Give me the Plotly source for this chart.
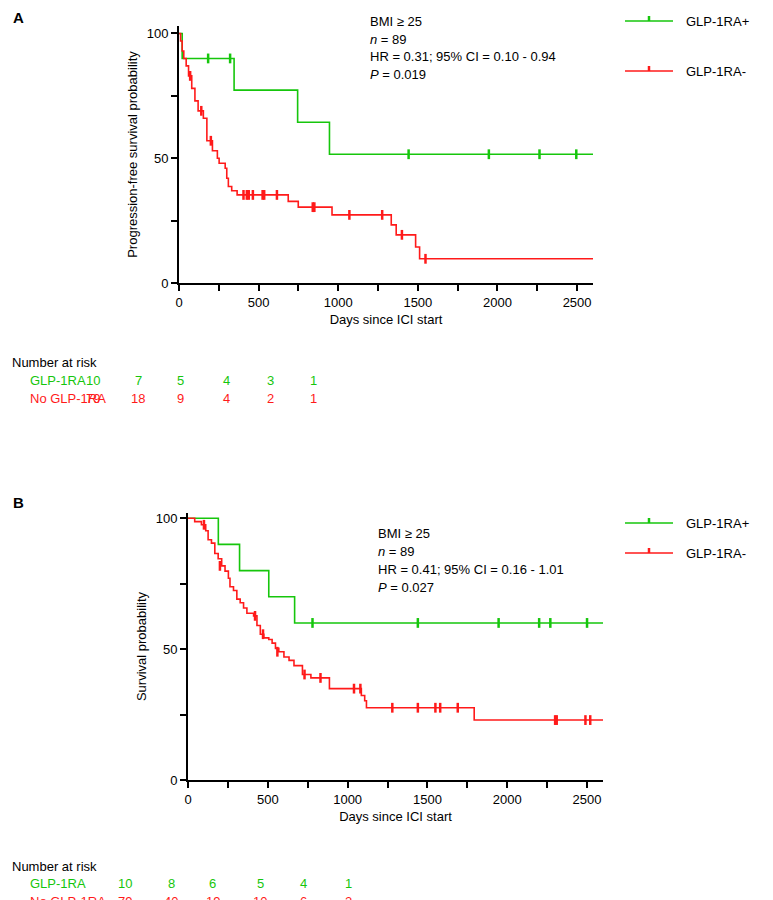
import plotly.graph_objects as go

W, H = 773, 900
GREEN = "#16c60c"
RED = "#ff1a1a"
FONT = "Liberation Sans, Arial"

# Panel A (progression-free survival)
a_glp_days = [0, 20, 346, 745, 945]
a_glp_pct = [100, 90, 77.3, 64.4, 51.6]
a_glp_cens_days = [183, 321, 1442, 1946, 2264, 2495]
a_glp_cens_pct = [90, 90, 51.6, 51.6, 51.6, 51.6]
a_no_days = [0, 10, 20, 30, 45, 60, 80, 100, 120, 153, 175, 210, 241, 252, 290, 300, 310, 331, 365,
             686, 749, 961, 1333, 1364, 1486, 1511]
a_no_pct = [100, 97, 93, 90, 87, 83, 78, 73, 69, 66, 57, 53, 50, 48, 46, 42, 38.7, 37, 35.3,
            32.7, 30.4, 27.3, 23.3, 19.3, 14.4, 9.7]
a_no_cens_days = [70, 140, 200, 405, 426, 438, 464, 525, 535, 615, 840, 850, 1070, 1276, 1400, 1548]
a_no_cens_pct = [83, 69, 57, 35.3, 35.3, 35.3, 35.3, 35.3, 35.3, 35.3, 30.4, 30.4, 27.3, 27.3, 19.3, 9.7]
a_risk_glp = ["10", "7", "5", "4", "3", "1"]
a_risk_no = ["79", "18", "9", "4", "2", "1"]

# Panel B (overall survival)
b_glp_days = [0, 190, 323, 506, 668]
b_glp_pct = [100, 90, 80, 70, 60]
b_glp_cens_days = [780, 1440, 1946, 2200, 2270, 2500]
b_glp_cens_pct = [60] * 6
b_no_days = [0, 42, 84, 111, 126, 147, 168, 189, 211, 232, 253, 263, 285, 306, 327, 348, 369, 411,
             432, 453, 475, 506, 527, 548, 569, 601, 633, 664, 717, 770, 886, 1086, 1107, 1118, 1793]
b_no_pct = [100, 98.7, 97.5, 95.2, 91.8, 90.5, 86.5, 84.5, 81.8, 79.8, 77.1, 73.8, 72.4, 69.1, 67.7,
            65.7, 63.7, 62.7, 59.0, 55.7, 54.3, 53.7, 52.3, 50.3, 49.0, 47.0, 45.7, 43.7, 40.3, 39.0,
            34.9, 32.3, 30.3, 27.6, 22.9]
b_no_cens_days = [100, 200, 420, 470, 560, 730, 830, 1040, 1080, 1280, 1440, 1550, 1580, 1690, 2300, 2310, 2490, 2520]
b_no_cens_pct = [97.5, 81.8, 62.7, 55.7, 49.0, 40.3, 39.0, 34.9, 34.9, 27.6, 27.6, 27.6, 27.6, 27.6,
                 22.9, 22.9, 22.9, 22.9]
b_risk_glp = ["10", "8", "6", "5", "4", "1"]
b_risk_no = ["79", "40", "19", "10", "6", "2"]

X_END = 2600


def px(x):
    return x / W


def py(y):
    return 1 - y / H


fig = go.Figure()


def km(days, pct, color, xa, ya):
    fig.add_trace(go.Scatter(x=days + [X_END], y=pct + [pct[-1]], mode="lines", line_shape="hv",
                             line=dict(color=color, width=1.6), xaxis=xa, yaxis=ya,
                             showlegend=False, hoverinfo="skip"))


def cens(days, pct, color, xa, ya):
    fig.add_trace(go.Scatter(x=days, y=pct, mode="markers", xaxis=xa, yaxis=ya, showlegend=False,
                             marker=dict(symbol="line-ns", size=7, line=dict(color=color, width=2.5))))


km(a_glp_days, a_glp_pct, GREEN, "x", "y")
km(a_no_days, a_no_pct, RED, "x", "y")
cens(a_glp_cens_days, a_glp_cens_pct, GREEN, "x", "y")
cens(a_no_cens_days, a_no_cens_pct, RED, "x", "y")
km(b_glp_days, b_glp_pct, GREEN, "x2", "y2")
km(b_no_days, b_no_pct, RED, "x2", "y2")
cens(b_glp_cens_days, b_glp_cens_pct, GREEN, "x2", "y2")
cens(b_no_cens_days, b_no_cens_pct, RED, "x2", "y2")

axis_common = dict(showline=True, linecolor="black", linewidth=2, ticks="outside", tickwidth=2,
                   ticklen=6, tickcolor="black", showgrid=False, zeroline=False, automargin=False,
                   tickfont=dict(size=13, color="black"))
xcommon = dict(axis_common, range=[0, X_END], tickvals=[0, 500, 1000, 1500, 2000, 2500],
               minor=dict(dtick=250, tick0=0, ticks="outside", ticklen=6, tickwidth=2, tickcolor="black"),
               title=dict(text="Days since ICI start", font=dict(size=13, color="black"), standoff=6))

fig.update_layout(
    width=W, height=H, margin=dict(l=0, r=0, t=0, b=0, autoexpand=False),
    plot_bgcolor="white", paper_bgcolor="white", font=dict(family=FONT, color="black"),
    xaxis=dict(xcommon, domain=[px(171), px(585)], anchor="y"),
    yaxis=dict(axis_common, domain=[py(275), py(18)], range=[0, 103], tickvals=[0, 50, 100],
               minor=dict(dtick=25, ticks="outside", ticklen=6, tickwidth=2, tickcolor="black"),
               title=dict(text="Progression-free survival probability", font=dict(size=13, color="black"), standoff=6),
               anchor="x"),
    xaxis2=dict(xcommon, domain=[px(180), px(595)], anchor="y2"),
    yaxis2=dict(axis_common, domain=[py(772), py(505)], range=[0, 102], tickvals=[0, 50, 100],
                minor=dict(dtick=25, ticks="outside", ticklen=6, tickwidth=2, tickcolor="black"),
                title=dict(text="Survival probability", font=dict(size=13, color="black"), standoff=6),
                anchor="x2"),
)


def txt(x, y, s, color="black", size=13, xanchor="left", bold=False):
    if bold:
        s = "<b>" + s + "</b>"
    fig.add_annotation(x=px(x), y=py(y), xref="paper", yref="paper", text=s, showarrow=False,
                       xanchor=xanchor, yanchor="middle", font=dict(size=size, color=color, family=FONT))


txt(3, 10, "A", size=15, bold=True)
txt(3, 494, "B", size=15, bold=True)

for x0, y0, p in [(360, 13, "0.019"), (368, 525, "0.027")]:
    hr = "HR = 0.31; 95% CI = 0.10 - 0.94" if p == "0.019" else "HR = 0.41; 95% CI = 0.16 - 1.01"
    for i, s in enumerate(["BMI ≥ 25", "<i>n</i> = 89", hr, "<i>P</i> = " + p]):
        txt(x0, y0 + i * 18, s)

# manual legends
for ly, col, lab in [(13, GREEN, "GLP-1RA+"), (63, RED, "GLP-1RA-"),
                     (515, GREEN, "GLP-1RA+"), (545, RED, "GLP-1RA-")]:
    fig.add_shape(type="line", xref="paper", yref="paper", x0=px(617), x1=px(665), y0=py(ly), y1=py(ly),
                  line=dict(color=col, width=1.6))
    fig.add_shape(type="line", xref="paper", yref="paper", x0=px(641), x1=px(641), y0=py(ly), y1=py(ly - 5),
                  line=dict(color=col, width=2.5))
    txt(676, ly, lab)

# number at risk tables
for y0, xs, glp, no in [(355, [85, 130, 172, 218, 262, 305], a_risk_glp, a_risk_no),
                        (858, [117, 163, 205, 252, 295, 340], b_risk_glp, b_risk_no)]:
    txt(2, y0, "Number at risk")
    txt(20, y0 + 17, "GLP-1RA", GREEN)
    txt(20, y0 + 35, "No GLP-1RA", RED)
    for x, g, n in zip(xs, glp, no):
        txt(x, y0 + 17, g, GREEN, xanchor="center")
        txt(x, y0 + 35, n, RED, xanchor="center")

fig.write_html("out.html")
